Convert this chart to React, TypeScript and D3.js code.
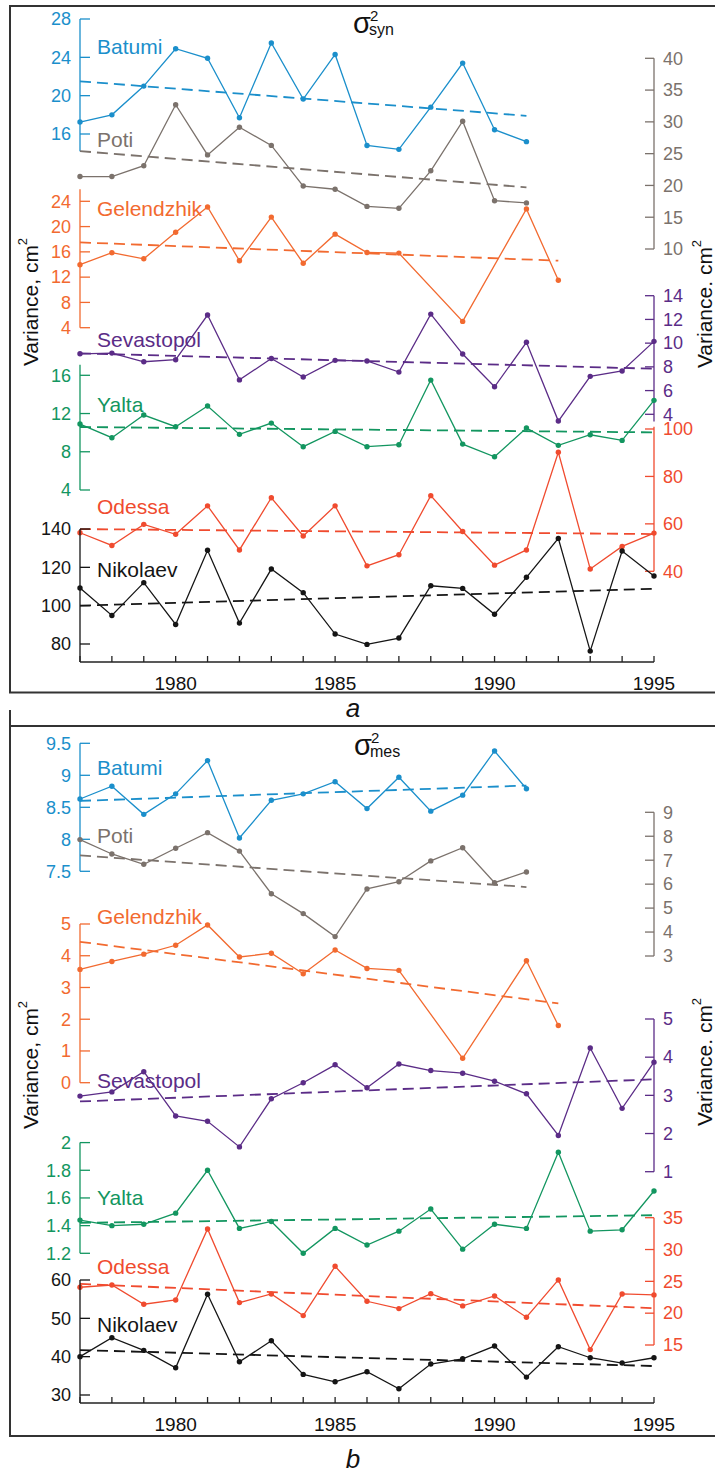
import React from 'react';
import * as d3 from 'd3';

const years = [1977,1978,1979,1980,1981,1982,1983,1984,1985,1986,1987,1988,1989,1990,1991,1992,1993,1994,1995];
const xTickLabels = [1980, 1985, 1990, 1995];

// Panel a: sigma^2 syn
const batumiSyn = [17.25,18.0,21.0,24.9,23.9,17.7,25.5,19.65,24.3,14.8,14.4,18.8,23.4,16.45,15.2];
const potiSyn = [21.4,21.4,23.1,32.7,24.8,29.15,26.3,19.9,19.4,16.7,16.4,22.3,30.1,17.6,17.25];
const gelendzhikSyn = [13.97,15.87,14.9,19.1,23.1,14.6,21.5,14.2,18.8,15.9,15.8,null,5.0,null,22.8,11.5];
const sevastopolSyn = [9.1,9.16,8.43,8.6,12.37,6.9,8.7,7.14,8.55,8.5,7.56,12.45,9.08,6.32,10.07,3.43,7.2,7.65,10.15];
const yaltaSyn = [10.9,9.47,11.84,10.62,12.79,9.82,11.0,8.53,10.13,8.53,8.74,15.5,8.8,7.48,10.48,8.67,9.78,9.19,13.38];
const odessaSyn = [56.25,50.9,59.8,55.6,67.6,49,71,54.9,67.6,42.3,47,71.9,56.8,42.6,49,90.2,41,50.5,56.1];
const nikolaevSyn = [109.2,94.9,112,90.2,128.9,90.9,119.1,106.8,85.2,79.8,83.1,110.4,109,95.5,114.8,135.1,76.3,128.5,115.5];

const batumiSynTrend = [21.5, 17.9];
const potiSynTrend = [25.4, 19.7];
const gelendzhikSynTrend = [17.5, 14.6];
const sevastopolSynTrend = [9.14, 7.84];
const yaltaSynTrend = [10.59, 10.03];
const odessaSynTrend = [57.8, 55.7];
const nikolaevSynTrend = [100, 108.8];

const batumiSynTicks = [16, 20, 24, 28];
const potiSynTicks = [10, 15, 20, 25, 30, 35, 40];
const gelendzhikSynTicks = [4, 8, 12, 16, 20, 24];
const sevastopolSynTicks = [4, 6, 8, 10, 12, 14];
const yaltaSynTicks = [4, 8, 12, 16];
const odessaSynTicks = [40, 60, 80, 100];
const nikolaevSynTicks = [80, 100, 120, 140];

// Panel b: sigma^2 mes
const batumiMes = [8.63,8.83,8.39,8.71,9.23,8.02,8.61,8.71,8.9,8.48,8.97,8.44,8.69,9.38,8.79];
const potiMes = [7.86,7.26,6.83,7.5,8.15,7.38,5.6,4.77,3.81,5.8,6.1,6.97,7.52,6.06,6.51];
const gelendzhikMes = [3.57,3.82,4.05,4.33,4.97,3.96,4.08,3.43,4.18,3.6,3.54,null,0.77,null,3.84,1.8];
const sevastopolMes = [2.98,3.09,3.62,2.46,2.32,1.65,2.91,3.33,3.8,3.2,3.82,3.65,3.58,3.37,3.04,1.95,4.24,2.66,3.87];
const yaltaMes = [1.44,1.40,1.41,1.49,1.80,1.38,1.43,1.20,1.38,1.26,1.36,1.52,1.23,1.41,1.38,1.93,1.36,1.37,1.65];
const odessaMes = [24.07,24.43,21.4,22.08,33.23,21.66,23.02,19.62,27.37,21.87,20.72,23.07,21.14,22.71,19.36,25.22,14.28,23.02,22.87];
const nikolaevMes = [40,44.94,41.64,37.1,56.27,38.67,44.15,35.37,33.45,36.06,31.62,38.07,39.45,42.77,34.67,42.6,39.72,38.33,39.72];

const batumiMesTrend = [8.60, 8.84];
const potiMesTrend = [7.2, 5.88];
const gelendzhikMesTrend = [4.44, 2.5];
const sevastopolMesTrend = [2.84, 3.42];
const yaltaMesTrend = [1.42, 1.475];
const odessaMesTrend = [24.6, 20.78];
const nikolaevMesTrend = [41.72, 37.55];

const batumiMesTicks = [7.5, 8, 8.5, 9, 9.5];
const potiMesTicks = [3, 4, 5, 6, 7, 8, 9];
const gelendzhikMesTicks = [0, 1, 2, 3, 4, 5];
const sevastopolMesTicks = [1, 2, 3, 4, 5];
const yaltaMesTicks = [1.2, 1.4, 1.6, 1.8, 2];
const odessaMesTicks = [15, 20, 25, 30, 35];
const nikolaevMesTicks = [30, 40, 50, 60];

const C = {
  batumi: '#1b8fcb',
  poti: '#7b726c',
  gelendzhik: '#f26a30',
  sevastopol: '#5b2c87',
  yalta: '#139660',
  odessa: '#f04b2f',
  nikolaev: '#151515',
};

const FONT = '"Liberation Sans", Arial, Helvetica, sans-serif';

const x = d3.scaleLinear().domain([1977, 1995]).range([80, 654]);
const LEFT_X = 80;
const RIGHT_X = 654;

type Series = {
  name: string;
  color: string;
  values: (number | null)[];
  trend: number[];
  ticks: number[];
  side: 'left' | 'right';
  domain: [number, number];
  range: [number, number];
  extent: [number, number];
  labelY: number;
};

const panelA: Series[] = [
  { name: 'Batumi', color: C.batumi, values: batumiSyn, trend: batumiSynTrend, ticks: batumiSynTicks, side: 'left', domain: [16, 28], range: [134, 19], extent: [14.2, 28], labelY: 54 },
  { name: 'Poti', color: C.poti, values: potiSyn, trend: potiSynTrend, ticks: potiSynTicks, side: 'right', domain: [10, 40], range: [249, 58.3], extent: [10, 40], labelY: 147 },
  { name: 'Gelendzhik', color: C.gelendzhik, values: gelendzhikSyn, trend: gelendzhikSynTrend, ticks: gelendzhikSynTicks, side: 'left', domain: [4, 24], range: [327.7, 201.3], extent: [4, 25.9], labelY: 216 },
  { name: 'Sevastopol', color: C.sevastopol, values: sevastopolSyn, trend: sevastopolSynTrend, ticks: sevastopolSynTicks, side: 'right', domain: [4, 14], range: [414.3, 295.7], extent: [3.4, 14], labelY: 347 },
  { name: 'Yalta', color: C.yalta, values: yaltaSyn, trend: yaltaSynTrend, ticks: yaltaSynTicks, side: 'left', domain: [4, 16], range: [490, 375.3], extent: [4, 17.1], labelY: 412 },
  { name: 'Odessa', color: C.odessa, values: odessaSyn, trend: odessaSynTrend, ticks: odessaSynTicks, side: 'right', domain: [40, 100], range: [571.3, 429], extent: [40, 101], labelY: 514 },
  { name: 'Nikolaev', color: C.nikolaev, values: nikolaevSyn, trend: nikolaevSynTrend, ticks: nikolaevSynTicks, side: 'left', domain: [80, 140], range: [644, 529], extent: [70.6, 140], labelY: 577 },
];

const panelB: Series[] = [
  { name: 'Batumi', color: C.batumi, values: batumiMes, trend: batumiMesTrend, ticks: batumiMesTicks, side: 'left', domain: [7.5, 9.5], range: [871.3, 743.3], extent: [7.5, 9.5], labelY: 775 },
  { name: 'Poti', color: C.poti, values: potiMes, trend: potiMesTrend, ticks: potiMesTicks, side: 'right', domain: [3, 9], range: [956, 812.3], extent: [3, 9], labelY: 843 },
  { name: 'Gelendzhik', color: C.gelendzhik, values: gelendzhikMes, trend: gelendzhikMesTrend, ticks: gelendzhikMesTicks, side: 'left', domain: [0, 5], range: [1082.7, 924], extent: [0, 5], labelY: 924 },
  { name: 'Sevastopol', color: C.sevastopol, values: sevastopolMes, trend: sevastopolMesTrend, ticks: sevastopolMesTicks, side: 'right', domain: [1, 5], range: [1171.7, 1019], extent: [1, 5], labelY: 1088 },
  { name: 'Yalta', color: C.yalta, values: yaltaMes, trend: yaltaMesTrend, ticks: yaltaMesTicks, side: 'left', domain: [1.2, 2], range: [1253.3, 1142.6], extent: [1.2, 2], labelY: 1205 },
  { name: 'Odessa', color: C.odessa, values: odessaMes, trend: odessaMesTrend, ticks: odessaMesTicks, side: 'right', domain: [15, 35], range: [1345, 1217.7], extent: [15, 35], labelY: 1274 },
  { name: 'Nikolaev', color: C.nikolaev, values: nikolaevMes, trend: nikolaevMesTrend, ticks: nikolaevMesTicks, side: 'left', domain: [30, 60], range: [1395, 1280], extent: [27.9, 60], labelY: 1332 },
];

function SeriesGroup({ s }: { s: Series }) {
  const y = d3.scaleLinear().domain(s.domain).range(s.range);
  const pts = s.values
    .map((v, i) => ({ yr: years[i], v }))
    .filter((p) => p.v !== null) as { yr: number; v: number }[];
  const line = d3.line<{ yr: number; v: number }>().x((d) => x(d.yr)).y((d) => y(d.v));
  const lastYear = years[s.values.length - 1];
  const ax = s.side === 'left' ? LEFT_X : RIGHT_X;
  const tickDir = s.side === 'left' ? 10 : -9;
  return (
    <g>
      <line x1={ax} x2={ax} y1={y(s.extent[0])} y2={y(s.extent[1])} stroke={s.color} strokeWidth={1.3} />
      {s.ticks.map((t) => (
        <g key={t}>
          <line x1={ax} x2={ax + tickDir} y1={y(t)} y2={y(t)} stroke={s.color} strokeWidth={1.3} />
          <text
            x={s.side === 'left' ? ax - 9 : ax + 9}
            y={y(t)}
            dy="0.35em"
            textAnchor={s.side === 'left' ? 'end' : 'start'}
            fill={s.color}
            fontSize={18}
            fontFamily={FONT}
          >
            {String(t)}
          </text>
        </g>
      ))}
      <line
        x1={x(1977)}
        x2={x(lastYear)}
        y1={y(s.trend[0])}
        y2={y(s.trend[1])}
        stroke={s.color}
        strokeWidth={1.8}
        strokeDasharray="11 6"
      />
      <path d={line(pts) || ''} fill="none" stroke={s.color} strokeWidth={1.3} />
      {pts.map((p) => (
        <circle key={p.yr} cx={x(p.yr)} cy={y(p.v)} r={2.7} fill={s.color} />
      ))}
      <text x={97} y={s.labelY} fill={s.color} fontSize={21} fontFamily={FONT}>
        {s.name}
      </text>
    </g>
  );
}

function XAxis({ y0 }: { y0: number }) {
  return (
    <g>
      <line x1={x(1977)} x2={x(1995)} y1={y0} y2={y0} stroke="#222" strokeWidth={1.4} />
      {years.map((yr) => (
        <line key={yr} x1={x(yr)} x2={x(yr)} y1={y0} y2={y0 - 6} stroke="#222" strokeWidth={1.3} />
      ))}
      {xTickLabels.map((yr) => (
        <text key={yr} x={x(yr)} y={y0 + 28} textAnchor="middle" fontSize={19} fontFamily={FONT} fill="#111">
          {yr}
        </text>
      ))}
    </g>
  );
}

function YLabel({ xPos, yMid, text }: { xPos: number; yMid: number; text: string }) {
  return (
    <text
      transform={`translate(${xPos},${yMid}) rotate(-90)`}
      textAnchor="middle"
      fontSize={21}
      fontFamily={FONT}
      fill="#111"
    >
      {text}
      <tspan dy={-11} fontSize={13}>2</tspan>
    </text>
  );
}

function Title({ x0, base, sub }: { x0: number; base: number; sub: string }) {
  return (
    <g fontFamily={FONT} fill="#111">
      <text x={x0} y={base} fontSize={29}>σ</text>
      <text x={x0 + 17} y={base - 12} fontSize={15}>2</text>
      <text x={x0 + 16} y={base + 2} fontSize={16}>{sub}</text>
    </g>
  );
}

export default function App() {
  return (
    <div style={{ position: 'absolute', left: 0, top: 0 }}>
      <svg width={715} height={1478} style={{ display: 'block', background: '#fff' }}>
        <path d="M715,6 H10 V692.5 H715" fill="none" stroke="#333" strokeWidth={2} />
        <path d="M10,710 V1436 H715" fill="none" stroke="#333" strokeWidth={2} />
        <line x1={10} x2={715} y1={726} y2={726} stroke="#333" strokeWidth={2} />

        <Title x0={353} base={33} sub="syn" />
        <Title x0={354} base={755} sub="mes" />

        {panelA.map((s) => (
          <SeriesGroup key={'a' + s.name} s={s} />
        ))}
        <XAxis y0={662} />

        {panelB.map((s) => (
          <SeriesGroup key={'b' + s.name} s={s} />
        ))}
        <XAxis y0={1403} />

        <YLabel xPos={38} yMid={302} text="Variance, cm" />
        <YLabel xPos={712} yMid={304} text="Variance. cm" />
        <YLabel xPos={38} yMid={1065} text="Variance, cm" />
        <YLabel xPos={712} yMid={1062} text="Variance. cm" />

        <text x={353} y={717} textAnchor="middle" fontSize={26} fontStyle="italic" fontFamily={FONT} fill="#111">a</text>
        <text x={353} y={1468} textAnchor="middle" fontSize={26} fontStyle="italic" fontFamily={FONT} fill="#111">b</text>
      </svg>
    </div>
  );
}
